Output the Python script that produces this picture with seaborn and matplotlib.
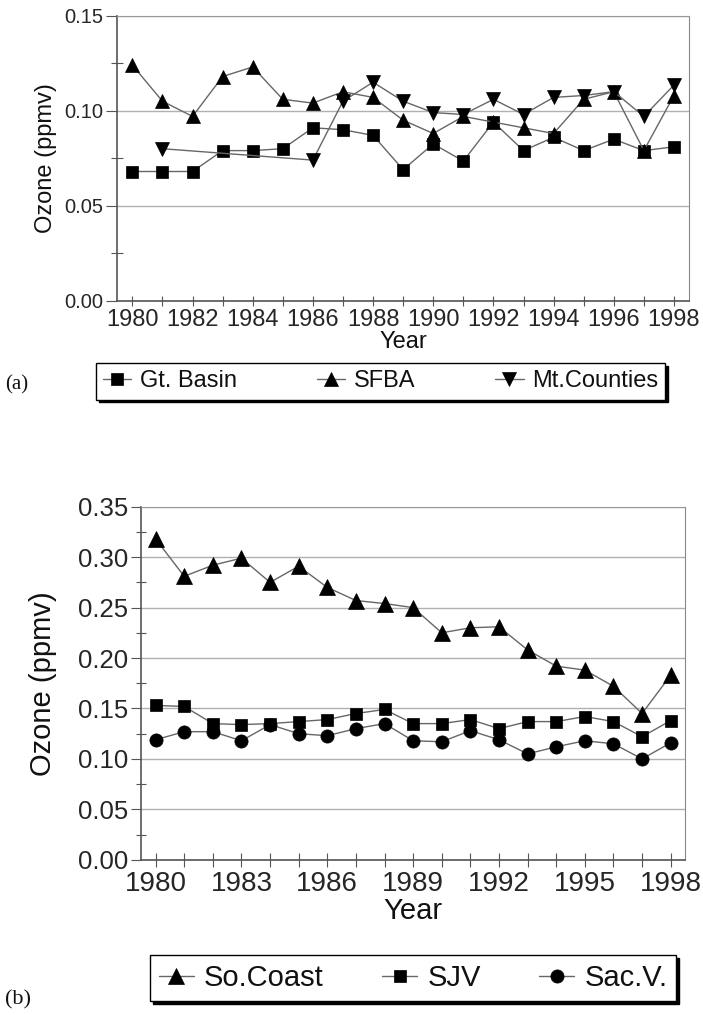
import numpy as np
import pandas as pd
import matplotlib
matplotlib.use("Agg")
import matplotlib.pyplot as plt
from matplotlib.ticker import FixedLocator, FormatStrFormatter
from matplotlib.transforms import blended_transform_factory
import seaborn as sns

# ---- data -------------------------------------------------------------
years = list(range(1980, 1999))

# panel (a)
gt_basin = [0.068, 0.068, 0.068, 0.079, 0.079, 0.080, 0.091, 0.090, 0.087, 0.069,
            0.0825, 0.0735, 0.094, 0.079, 0.086, 0.079, 0.085, 0.079, 0.081]
sfba = [0.124, 0.105, 0.097, 0.118, 0.123, 0.106, 0.104, 0.110, 0.107, 0.095,
        0.088, 0.097, 0.094, 0.091, 0.088, 0.106, 0.110, 0.079, 0.108]
mt_counties = [np.nan, 0.080, np.nan, np.nan, np.nan, np.nan, 0.074, 0.105, 0.115, 0.105,
               0.099, 0.098, 0.106, 0.098, 0.107, 0.108, 0.110, 0.097, 0.1135]

# panel (b)
so_coast = [0.318, 0.281, 0.292, 0.299, 0.275, 0.291, 0.270, 0.257, 0.254, 0.250,
            0.225, 0.230, 0.231, 0.208, 0.192, 0.188, 0.172, 0.145, 0.183]
sjv = [0.153, 0.152, 0.135, 0.134, 0.135, 0.137, 0.139, 0.145, 0.149, 0.135,
       0.135, 0.139, 0.130, 0.137, 0.137, 0.142, 0.137, 0.122, 0.138]
sac_v = [0.119, 0.127, 0.127, 0.118, 0.134, 0.125, 0.123, 0.130, 0.135, 0.118,
         0.117, 0.128, 0.119, 0.105, 0.112, 0.118, 0.115, 0.100, 0.116]

series_a = [("Gt. Basin", gt_basin, "s", 9), ("SFBA", sfba, "^", 10),
            ("Mt.Counties", mt_counties, "v", 10)]
series_b = [("So.Coast", so_coast, "^", 11), ("SJV", sjv, "s", 9),
            ("Sac.V.", sac_v, "o", 9.5)]

# ---- style ------------------------------------------------------------
sns.set_style("ticks")
plt.rcParams["font.family"] = ["Liberation Sans", "DejaVu Sans"]
plt.rcParams["text.color"] = "#111111"
plt.rcParams["axes.labelcolor"] = "#111111"

LINE = "#666666"
AXIS = "#555555"
GRID = "#b0b0b0"

fig = plt.figure(figsize=(7.03, 10.15), dpi=100)


def draw_panel(ax, series, ymax, xmajor, ytick_size, xtick_size, label_size,
               xtl, ytl, ylab_x):
    for name, vals, mk, ms in series:
        df = pd.DataFrame({"Year": years, "Ozone": vals}).dropna()
        sns.lineplot(data=df, x="Year", y="Ozone", ax=ax, color=LINE, lw=1,
                     marker=mk, markersize=ms, markerfacecolor="black",
                     markeredgecolor="black", markeredgewidth=0.5,
                     label=name, legend=False, zorder=3)
    ax.set_xlim(1979.5, 1998.5)
    ax.set_ylim(0, ymax)
    ax.xaxis.set_major_locator(FixedLocator(xmajor))
    ax.xaxis.set_minor_locator(FixedLocator(years))
    yt = np.round(np.arange(0, ymax + 1e-9, 0.05), 3)
    ax.yaxis.set_major_locator(FixedLocator(yt))
    ax.yaxis.set_minor_locator(FixedLocator(yt[:-1] + 0.025))
    ax.yaxis.set_major_formatter(FormatStrFormatter("%.2f"))
    ax.grid(axis="y", which="major", color=GRID, lw=1)
    ax.set_axisbelow(True)
    ax.tick_params(axis="x", which="both", direction="inout", length=xtl,
                   color=AXIS, width=0.8)
    ax.tick_params(axis="x", which="major", labelsize=xtick_size, pad=3)
    ax.tick_params(axis="y", which="major", direction="out", length=ytl,
                   color=AXIS, width=0.8, labelsize=ytick_size, pad=2)
    ax.tick_params(axis="y", which="minor", direction="inout", length=ytl,
                   color=AXIS, width=0.8)
    for s in ("left", "bottom"):
        ax.spines[s].set_color(AXIS)
        ax.spines[s].set_linewidth(1.2)
    ax.spines["right"].set_color("#888888")
    ax.spines["top"].set_color("#999999")
    ax.spines["right"].set_visible(True)
    ax.spines["top"].set_visible(True)
    ax.set_xlabel("Year", fontsize=label_size, labelpad=0)
    ax.set_ylabel("Ozone (ppmv)", fontsize=label_size)
    ax.yaxis.set_label_coords(
        ylab_x, 0.5, transform=blended_transform_factory(fig.transFigure, ax.transAxes))


# panel (a)
ax1 = fig.add_axes([117.3 / 703, 1 - 300.7 / 1015, 571.7 / 703, 285 / 1015])
draw_panel(ax1, series_a, 0.15, list(range(1980, 1999, 2)), 14.5, 17, 17,
           6.5, 8, 57 / 703)

# panel (b)
ax2 = fig.add_axes([141.3 / 703, 1 - 859.8 / 1015, 543.7 / 703, 353.1 / 1015])
draw_panel(ax2, series_b, 0.35, list(range(1980, 1999, 3)), 18.5, 20, 21,
           9.5, 7.5, 57 / 703)


def add_legend(ax, x0, x1, yc, size):
    h, l = ax.get_legend_handles_labels()
    leg = fig.legend(h, l, loc="center", ncol=3, mode="expand",
                     bbox_to_anchor=(x0 / 703, 1 - yc / 1015 - 0.01,
                                     (x1 - x0) / 703, 0.02),
                     fontsize=size, frameon=True, fancybox=False,
                     edgecolor="black", framealpha=1, handlelength=1.2,
                     handletextpad=0.35, borderaxespad=0, borderpad=0.3,
                     shadow={"color": "black", "alpha": 1})
    leg.get_frame().set_linewidth(1.0)
    return leg


add_legend(ax1, 96, 665, 381.5, 17)
add_legend(ax2, 150, 676, 978, 21)

fig.text(5 / 703, 1 - 385 / 1015, "(a)", fontsize=15, va="center", ha="left",
         family=["Liberation Serif", "DejaVu Serif"])
fig.text(5 / 703, 1 - 1000 / 1015, "(b)", fontsize=16, va="center", ha="left",
         family=["Liberation Serif", "DejaVu Serif"])

fig.savefig("out.png", dpi=100)
